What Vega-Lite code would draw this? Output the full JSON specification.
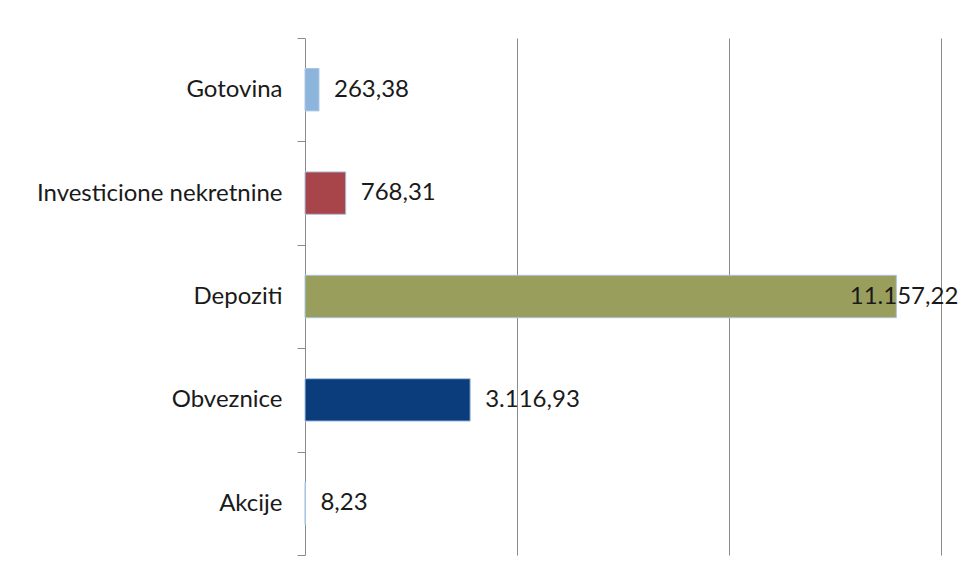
{
  "$schema": "https://vega.github.io/schema/vega-lite/v6.json",
  "autosize": {"type": "none"},
  "padding": {"left": 305, "top": 38, "right": 20, "bottom": 20},
  "width": 636,
  "height": 517,
  "background": "white",
  "config": {"view": {"stroke": null}, "font": "Lato"},
  "data": {"values": [
    {"kategorija": "Gotovina", "vrijednost": 263.38, "oznaka": "263,38", "boja": "Gotovina"},
    {"kategorija": "Investicione nekretnine", "vrijednost": 768.31, "oznaka": "768,31", "boja": "Investicione nekretnine"},
    {"kategorija": "Depoziti", "vrijednost": 11157.22, "oznaka": "11.157,22", "boja": "Depoziti"},
    {"kategorija": "Obveznice", "vrijednost": 3116.93, "oznaka": "3.116,93", "boja": "Obveznice"},
    {"kategorija": "Akcije", "vrijednost": 8.23, "oznaka": "8,23", "boja": "Akcije"}
  ]},
  "encoding": {
    "y": {
      "field": "kategorija", "type": "nominal",
      "sort": ["Gotovina", "Investicione nekretnine", "Depoziti", "Obveznice", "Akcije"],
      "scale": {"paddingInner": 0, "paddingOuter": 0},
      "axis": {"title": null, "tickBand": "extent", "tickSize": 8, "tickColor": "#8c8c8c", "domainColor": "#8c8c8c", "labelPadding": 15, "labelFontSize": 24, "labelColor": "#1a1a1a", "labelFont": "Lato", "labelLimit": 0}
    },
    "x": {
      "field": "vrijednost", "type": "quantitative",
      "scale": {"domain": [0, 12000]},
      "axis": {"title": null, "labels": false, "ticks": false, "domain": false, "values": [4000, 8000, 12000], "grid": true, "gridColor": "#8c8c8c", "gridWidth": 1}
    }
  },
  "layer": [
    {
      "mark": {"type": "bar", "stroke": "#a9c5e3", "strokeWidth": 1, "height": {"band": 0.41}},
      "encoding": {
        "color": {
          "field": "boja", "type": "nominal", "legend": null,
          "scale": {
            "domain": ["Gotovina", "Investicione nekretnine", "Depoziti", "Obveznice", "Akcije"],
            "range": ["#8db4da", "#a8454a", "#9a9e5d", "#0b3d7c", "#8db4da"]
          }
        }
      }
    },
    {
      "transform": [{"filter": "datum.vrijednost < 10000"}],
      "mark": {"type": "text", "align": "left", "baseline": "middle", "dx": 15, "fontSize": 24, "color": "#1a1a1a", "font": "Lato"},
      "encoding": {"text": {"field": "oznaka"}}
    },
    {
      "transform": [{"filter": "datum.vrijednost >= 10000"}],
      "mark": {"type": "text", "align": "right", "baseline": "middle", "dx": 62, "fontSize": 24, "color": "#1a1a1a", "font": "Lato"},
      "encoding": {"text": {"field": "oznaka"}}
    }
  ]
}
